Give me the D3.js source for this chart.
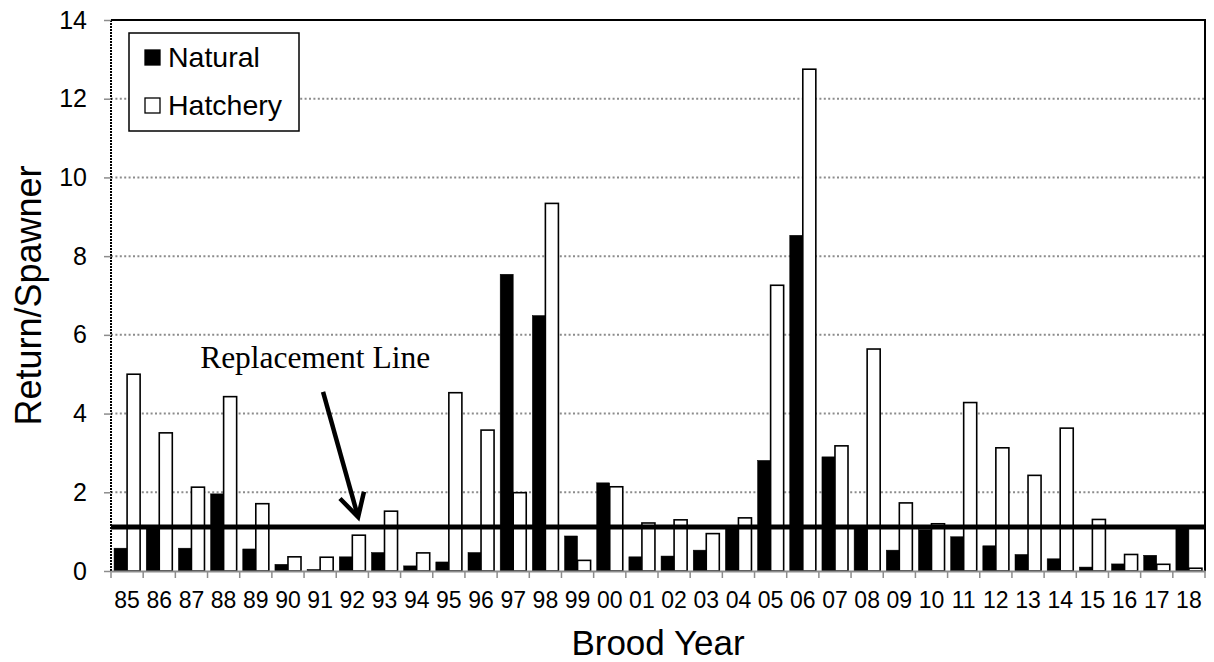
<!DOCTYPE html>
<html>
<head>
<meta charset="utf-8">
<script src="https://cdn.jsdelivr.net/npm/d3@7"></script>
<style>
  body { margin: 0; background: #fff; }
  text { font-family: "Liberation Sans", Arial, sans-serif; }
</style>
</head>
<body>
<svg id="chart" width="1214" height="662"></svg>
<script>
var svg = d3.select("#chart"),
  width = +svg.attr("width"),
  height = +svg.attr("height");

var margin = {top: 20, right: 9, bottom: 91, left: 111};

// Data
var years = ["85","86","87","88","89","90","91","92","93","94","95","96","97","98","99",
             "00","01","02","03","04","05","06","07","08","09","10","11","12","13","14",
             "15","16","17","18"];
var natural = [0.58, 1.1, 0.58, 1.96, 0.56, 0.17, 0.04, 0.36, 0.47, 0.13, 0.23, 0.47, 7.54, 6.49, 0.89,
               2.24, 0.36, 0.38, 0.53, 1.15, 2.81, 8.53, 2.90, 1.1, 0.53, 1.05, 0.87, 0.64, 0.42, 0.31,
               0.10, 0.18, 0.40, 1.1];
var hatchery = [5.0, 3.51, 2.13, 4.43, 1.71, 0.36, 0.35, 0.91, 1.52, 0.46, 4.53, 3.58, 1.99, 9.34, 0.27,
                2.14, 1.22, 1.30, 0.95, 1.35, 7.26, 12.75, 3.18, 5.64, 1.73, 1.20, 4.28, 3.13, 2.43, 3.63,
                1.31, 0.42, 0.17, 0.07];
var seriesNames = ["Natural", "Hatchery"];
var yTicks = [0, 2, 4, 6, 8, 10, 12, 14];
var replacement = 1.12;

var rows = years.map(function(y, i) {
  return {year: y, Natural: natural[i], Hatchery: hatchery[i]};
});

// Scales
var pad = 0.19;
var x = d3.scaleBand()
  .domain(years)
  .range([margin.left, width - margin.right])
  .paddingInner(pad)
  .paddingOuter(pad / 2);
var xSub = d3.scaleBand()
  .domain(seriesNames)
  .range([0, x.bandwidth()]);
var y = d3.scaleLinear()
  .domain([0, 14])
  .range([height - margin.bottom, margin.top]);
// continuous position along the category axis, for annotations
var xi = d3.scaleLinear()
  .domain([0, years.length])
  .range([margin.left, width - margin.right]);

var x0 = margin.left, x1 = width - margin.right;

// gridlines
svg.append("g")
  .selectAll("line")
  .data(yTicks.filter(function(d) { return d > 0 && d < 14; }))
  .enter().append("line")
  .attr("x1", x0).attr("x2", x1)
  .attr("y1", function(d) { return y(d); })
  .attr("y2", function(d) { return y(d); })
  .attr("stroke", "#8c8c8c")
  .attr("stroke-width", 2)
  .attr("stroke-dasharray", "2,2.4");

// bars
var groups = svg.append("g")
  .selectAll("g")
  .data(rows)
  .enter().append("g")
  .attr("transform", function(d) { return "translate(" + x(d.year) + ",0)"; });

groups.selectAll("rect")
  .data(function(d) { return seriesNames.map(function(k) { return {key: k, value: d[k]}; }); })
  .enter().append("rect")
  .attr("x", function(d) { return xSub(d.key); })
  .attr("width", xSub.bandwidth())
  .attr("y", function(d) { return y(d.value); })
  .attr("height", function(d) { return y(0) - y(d.value); })
  .attr("fill", function(d) { return d.key === "Natural" ? "#000" : "#fff"; })
  .attr("stroke", "#000")
  .attr("stroke-width", function(d) { return d.key === "Natural" ? 0.5 : 1.6; });

// replacement line
svg.append("line")
  .attr("x1", x0).attr("x2", x1)
  .attr("y1", y(replacement)).attr("y2", y(replacement))
  .attr("stroke", "#000")
  .attr("stroke-width", 5);

// plot border: top and right solid, left dotted
svg.append("path")
  .attr("d", "M" + x0 + "," + y(14) + "H" + x1 + "V" + y(0))
  .attr("fill", "none")
  .attr("stroke", "#000")
  .attr("stroke-width", 2);
svg.append("line")
  .attr("x1", x0).attr("x2", x0)
  .attr("y1", y(14)).attr("y2", y(0))
  .attr("stroke", "#000")
  .attr("stroke-width", 2)
  .attr("stroke-dasharray", "2,1");

// y axis
var yAxis = svg.append("g")
  .attr("transform", "translate(" + x0 + ",0)")
  .call(d3.axisLeft(y).tickValues(yTicks).tickSize(7).tickPadding(17));
yAxis.select(".domain").remove();
yAxis.selectAll(".tick line").attr("stroke", "#8c8c8c").attr("stroke-width", 1.5);
yAxis.selectAll("text")
  .attr("font-size", 25)
  .attr("fill", "#000")
  .style("font-family", "'Liberation Sans', Arial, sans-serif");

// x axis
var xAxis = svg.append("g")
  .attr("transform", "translate(0," + y(0) + ")")
  .call(d3.axisBottom(x).tickSize(0).tickPadding(21));
xAxis.select(".domain")
  .attr("stroke", "#8c8c8c")
  .attr("stroke-width", 2);
xAxis.selectAll("text")
  .attr("font-size", 23)
  .attr("fill", "#000")
  .style("font-family", "'Liberation Sans', Arial, sans-serif");
xAxis.append("g")
  .selectAll("line")
  .data(d3.range(years.length + 1))
  .enter().append("line")
  .attr("x1", function(i) { return xi(i); })
  .attr("x2", function(i) { return xi(i); })
  .attr("y1", 0).attr("y2", 7)
  .attr("stroke", "#8c8c8c")
  .attr("stroke-width", 1.5);

// axis titles
svg.append("text")
  .attr("x", (x0 + x1) / 2)
  .attr("y", 655)
  .attr("text-anchor", "middle")
  .attr("font-size", 35)
  .text("Brood Year");

svg.append("text")
  .attr("transform", "translate(41," + (y(0) + y(14)) / 2 + ") rotate(-90)")
  .attr("text-anchor", "middle")
  .attr("font-size", 36)
  .text("Return/Spawner");

// annotation
svg.append("text")
  .attr("x", xi(2.77))
  .attr("y", y(5.16))
  .attr("font-size", 31.5)
  .style("font-family", "'Liberation Serif', 'Times New Roman', serif")
  .text("Replacement Line");

var tail = [xi(6.59), y(4.55)], tip = [xi(7.68), y(1.37)];
var ang = Math.atan2(tip[1] - tail[1], tip[0] - tail[0]);
var headLen = 26, headAng = 0.5;
svg.append("line")
  .attr("x1", tail[0]).attr("y1", tail[1])
  .attr("x2", tip[0] - Math.cos(ang) * 3).attr("y2", tip[1] - Math.sin(ang) * 3)
  .attr("stroke", "#000")
  .attr("stroke-width", 4.5);
svg.append("path")
  .attr("d", d3.line()([
    [tip[0] - headLen * Math.cos(ang - headAng), tip[1] - headLen * Math.sin(ang - headAng)],
    tip,
    [tip[0] - headLen * Math.cos(ang + headAng), tip[1] - headLen * Math.sin(ang + headAng)]
  ]))
  .attr("fill", "none")
  .attr("stroke", "#000")
  .attr("stroke-width", 4.5)
  .attr("stroke-linejoin", "miter");

// legend
var legend = svg.append("g").attr("transform", "translate(129,33)");
legend.append("rect")
  .attr("width", 170).attr("height", 98)
  .attr("fill", "#fff")
  .attr("stroke", "#000")
  .attr("stroke-width", 1.5);
var items = legend.selectAll("g.item")
  .data(seriesNames)
  .enter().append("g")
  .attr("class", "item")
  .attr("transform", function(d, i) { return "translate(0," + (i * 48) + ")"; });
items.append("rect")
  .attr("x", 16).attr("y", 17)
  .attr("width", 15).attr("height", 15)
  .attr("fill", function(d) { return d === "Natural" ? "#000" : "#fff"; })
  .attr("stroke", "#000")
  .attr("stroke-width", 1.3);
items.append("text")
  .attr("x", 39).attr("y", 34)
  .attr("font-size", 28.5)
  .text(function(d) { return d; });
</script>
</body>
</html>
